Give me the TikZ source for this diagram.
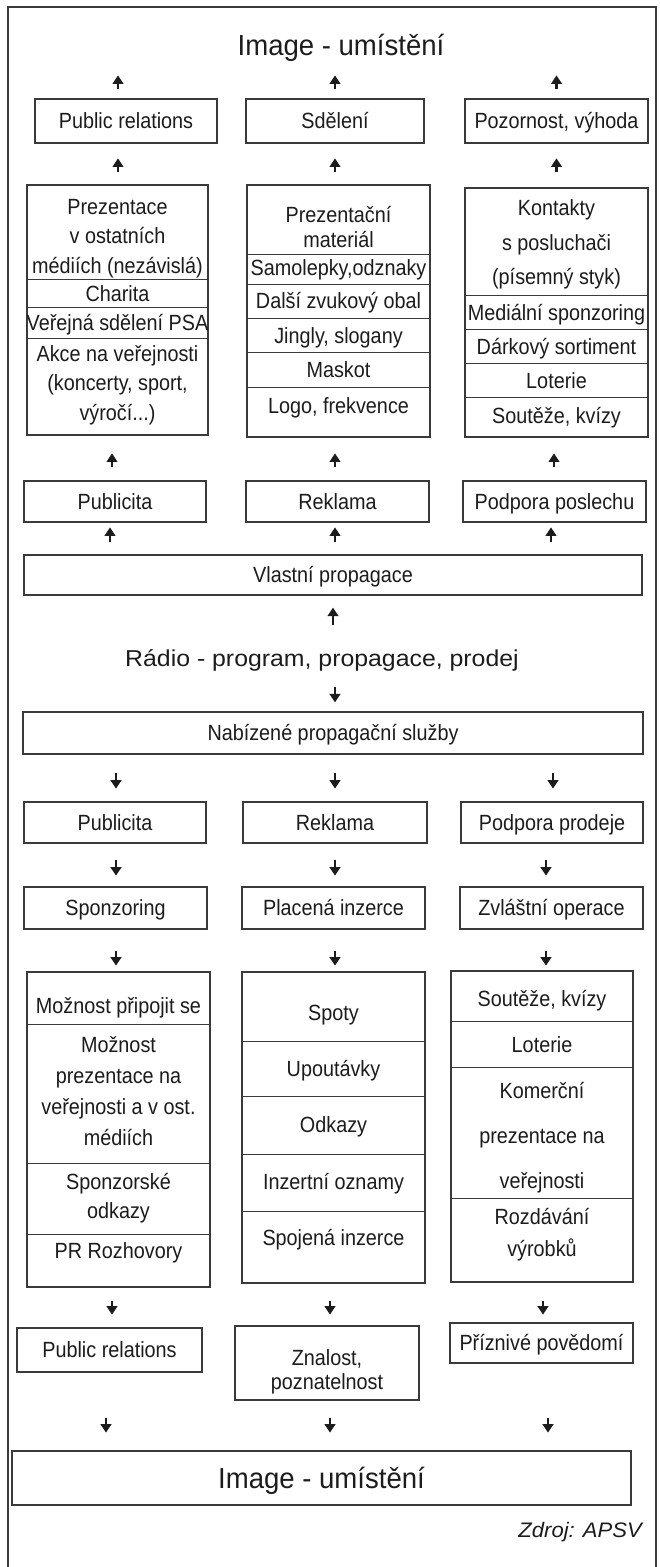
\documentclass[tikz,border=0pt]{standalone}
\usepackage{fontspec}
\setmainfont{Liberation Sans}[FakeStretch=0.9]
\newfontfamily\headfont{Liberation Sans}[FakeStretch=0.95]
\newfontfamily\widefont{Liberation Sans}[FakeStretch=1.08]
\newfontfamily\notefont{Liberation Sans}[FakeStretch=1.05]
\usetikzlibrary{arrows.meta}
\definecolor{ink}{HTML}{1C1C1C}
\definecolor{rule}{HTML}{3A3A3A}
\begin{document}
\begin{tikzpicture}[x=1pt,y=-1pt,
  box/.style={draw=rule, line width=1.3pt, inner sep=0pt, text=ink,
    font=\fontsize{22}{29}\selectfont, text height=15.75pt, text depth=0pt},
  cell/.style={text=ink, inner sep=0pt, align=center},
  one/.style={text=ink, inner sep=0pt, font=\fontsize{22}{29}\selectfont,
    text height=15.75pt, text depth=0pt},
  sepline/.style={draw=rule, line width=1.1pt},
  arr/.style={draw=ink, line width=2.2pt, -{Triangle[length=8.5pt,width=10.5pt]}},
  head/.style={font=\headfont\fontsize{29}{34}\selectfont, text height=20.8pt, text depth=0pt}
]
\fill[white] (0,0) rectangle (660,1567);
\useasboundingbox (0,0) rectangle (660,1567);
% outer frame
\draw[rule, line width=1.2pt] (8,1567) -- (8,7) -- (656,7) -- (656,1567);

% ---- upper half: own promotion ----
\node[text=ink, inner sep=0pt, head] (topimg) at (341,45) {Image - umístění};

\node[box, minimum width=182pt, minimum height=44pt] (prA) at (126,121) {Public relations};
\node[box, minimum width=178pt, minimum height=44pt] (sdA) at (335,121) {Sdělení};
\node[box, minimum width=183pt, minimum height=44pt] (pozA) at (556.5,121) {Pozornost, výhoda};

% left stack
\node[box, minimum width=181pt, minimum height=250pt] (L1) at (117.5,310) {};
\foreach \d in {95,123,154}
  \draw[sepline] ([yshift=-\d pt]L1.north west) -- ([yshift=-\d pt]L1.north east);
\node[cell, font=\fontsize{22}{29.5}\selectfont] (l1a) at (117.5,238.3) {Prezentace\\v ostatních\\médiích (nezávislá)};
\node[one] (l1b) at (117.5,294) {Charita};
\node[one] (l1c) at (117.5,323) {Veřejná sdělení PSA};
\node[cell, font=\fontsize{22}{29.5}\selectfont] (l1d) at (117.5,384.8) {Akce na veřejnosti\\(koncerty, sport,\\výročí...)};

% middle stack
\node[box, minimum width=183pt, minimum height=252pt] (M1) at (338.5,311) {};
\foreach \d in {70,100,134,168,203}
  \draw[sepline] ([yshift=-\d pt]M1.north west) -- ([yshift=-\d pt]M1.north east);
\node[cell, font=\fontsize{22}{25}\selectfont] (m1a) at (338.5,227.5) {Prezentační\\materiál};
\node[one] (m1b) at (338.5,268) {Samolepky,odznaky};
\node[one] (m1c) at (338.5,301) {Další zvukový obal};
\node[one] (m1d) at (338.5,336) {Jingly, slogany};
\node[one] (m1e) at (338.5,370) {Maskot};
\node[one] (m1f) at (338.5,406) {Logo, frekvence};

% right stack
\node[box, minimum width=183pt, minimum height=249pt] (R1) at (556.5,312.5) {};
\foreach \d in {108,142,176,210}
  \draw[sepline] ([yshift=-\d pt]R1.north west) -- ([yshift=-\d pt]R1.north east);
\node[cell, font=\fontsize{22}{34.5}\selectfont] (r1a) at (556.5,244.8) {Kontakty\\s posluchači\\(písemný styk)};
\node[one] (r1b) at (556.5,313) {Mediální sponzoring};
\node[one] (r1c) at (556.5,347) {Dárkový sortiment};
\node[one] (r1d) at (556.5,381) {Loterie};
\node[one] (r1e) at (556.5,416) {Soutěže, kvízy};

\node[box, minimum width=182pt, minimum height=41pt] (pubC) at (115,501.5) {Publicita};
\node[box, minimum width=183pt, minimum height=41pt] (rekC) at (337.5,501.5) {Reklama};
\node[box, minimum width=183pt, minimum height=41pt] (ppC) at (554.5,501.5) {Podpora poslechu};

\node[box, minimum width=618pt, minimum height=40pt] (vl) at (333,575) {Vlastní propagace};

% ---- centre line ----
\node[text=ink, inner sep=0pt, font=\widefont\fontsize{23}{28}\selectfont,
  text height=16.5pt, text depth=0pt] (radio) at (322,658) {Rádio - program, propagace, prodej};

% ---- lower half: offered services ----
\node[box, minimum width=620pt, minimum height=42pt] (nab) at (333,733) {Nabízené propagační služby};

\node[box, minimum width=182pt, minimum height=41pt] (pubF) at (115,822.5) {Publicita};
\node[box, minimum width=184pt, minimum height=41pt] (rekF) at (335,822.5) {Reklama};
\node[box, minimum width=182pt, minimum height=41pt] (pprF) at (552,822.5) {Podpora prodeje};

\node[box, minimum width=183pt, minimum height=42pt] (sponG) at (115.5,908) {Sponzoring};
\node[box, minimum width=183pt, minimum height=42pt] (placG) at (333.5,908) {Placená inzerce};
\node[box, minimum width=183pt, minimum height=42pt] (zvlG) at (551.5,908) {Zvláštní operace};

% left stack
\node[box, minimum width=183pt, minimum height=315pt] (L2) at (118.5,1129.5) {};
\foreach \d in {53,192,263}
  \draw[sepline] ([yshift=-\d pt]L2.north west) -- ([yshift=-\d pt]L2.north east);
\node[one] (l2a) at (118.5,1006) {Možnost připojit se};
\node[cell, font=\fontsize{22}{31}\selectfont] (l2b) at (118.5,1091.5) {Možnost\\prezentace na\\veřejnosti a v ost.\\médiích};
\node[cell, font=\fontsize{22}{29}\selectfont] (l2c) at (118.5,1197.8) {Sponzorské\\odkazy};
\node[one] (l2d) at (118.5,1251) {PR Rozhovory};

% middle stack
\node[box, minimum width=183pt, minimum height=311pt] (M2) at (333.5,1127.5) {};
\foreach \d in {70,125,183,240}
  \draw[sepline] ([yshift=-\d pt]M2.north west) -- ([yshift=-\d pt]M2.north east);
\node[one] (m2a) at (333.5,1013) {Spoty};
\node[one] (m2b) at (333.5,1069) {Upoutávky};
\node[one] (m2c) at (333.5,1125) {Odkazy};
\node[one] (m2d) at (333.5,1182) {Inzertní oznamy};
\node[one] (m2e) at (333.5,1238) {Spojená inzerce};

% right stack
\node[box, minimum width=182pt, minimum height=311pt] (R2) at (542,1126.5) {};
\foreach \d in {51,97,228}
  \draw[sepline] ([yshift=-\d pt]R2.north west) -- ([yshift=-\d pt]R2.north east);
\node[one] (r2a) at (542,999) {Soutěže, kvízy};
\node[one] (r2b) at (542,1045) {Loterie};
\node[cell, font=\fontsize{22}{45}\selectfont] (r2c) at (542,1137.3) {Komerční\\prezentace na\\veřejnosti};
\node[cell, font=\fontsize{22}{32}\selectfont] (r2d) at (542,1234.3) {Rozdávání\\výrobků};

\node[box, minimum width=185pt, minimum height=44pt] (prI) at (109.5,1350) {Public relations};
\node[box, minimum width=184pt, minimum height=74pt] (znI) at (327,1363) {};
\node[cell, font=\fontsize{22}{24}\selectfont] (znT) at (327,1371.8) {Znalost,\\poznatelnost};
\node[box, minimum width=183pt, minimum height=40pt] (pvI) at (541.5,1343) {Příznivé povědomí};

\node[box, head, minimum width=619pt, minimum height=54pt] (botimg) at (321.5,1478) {Image - umístění};

\node[anchor=east, text=ink, inner sep=0pt, font=\notefont\itshape\fontsize{21}{25}\selectfont,
  text height=15pt, text depth=0pt] (src) at (642,1530) {Zdroj: APSV};

% ---- arrows, upper half (pointing up) ----
\draw[arr] ([xshift=-8pt]prA.north) ++(0,-9) -- ++(0,-14);
\draw[arr] (sdA.north) ++(0,-9) -- ++(0,-14);
\draw[arr] (pozA.north) ++(0,-9) -- ++(0,-14);

\draw[arr] ([xshift=0.5pt]L1.north) ++(0,-12) -- ++(0,-14);
\draw[arr] ([xshift=-3.5pt]M1.north) ++(0,-12) -- ++(0,-14);
\draw[arr] (R1.north) ++(0,-15) -- ++(0,-14);

\draw[arr] ([xshift=-3pt]pubC.north) ++(0,-13) -- ++(0,-14);
\draw[arr] ([xshift=-2.5pt]rekC.north) ++(0,-13) -- ++(0,-14);
\draw[arr] ([xshift=-0.5pt]ppC.north) ++(0,-13) -- ++(0,-14);

\draw[arr] ([xshift=-223pt]vl.north) ++(0,-12) -- ++(0,-15);
\draw[arr] ([xshift=2pt]vl.north) ++(0,-12) -- ++(0,-15);
\draw[arr] ([xshift=218pt]vl.north) ++(0,-12) -- ++(0,-15);

\draw[arr] ([xshift=11pt]radio.north) ++(0,-25) -- ++(0,-17);

% ---- arrows, lower half (pointing down) ----
\draw[arr] ([xshift=13pt]radio.south) ++(0,21) -- ++(0,15);

\draw[arr] ([xshift=-217pt]nab.south) ++(0,18) -- ++(0,16);
\draw[arr] ([xshift=2pt]nab.south) ++(0,18) -- ++(0,16);
\draw[arr] ([xshift=220pt]nab.south) ++(0,18) -- ++(0,16);

\draw[arr] ([xshift=1pt]pubF.south) ++(0,16) -- ++(0,16);
\draw[arr] (rekF.south) ++(0,16) -- ++(0,16);
\draw[arr] ([xshift=-6pt]pprF.south) ++(0,16) -- ++(0,16);

\draw[arr] ([xshift=0.5pt]sponG.south) ++(0,21) -- ++(0,15);
\draw[arr] ([xshift=1.5pt]placG.south) ++(0,21) -- ++(0,15);
\draw[arr] ([xshift=-5.5pt]zvlG.south) ++(0,21) -- ++(0,15);

\draw[arr] ([xshift=-6.5pt]L2.south) ++(0,13) -- ++(0,14);
\draw[arr] ([xshift=-3.5pt]M2.south) ++(0,17) -- ++(0,14);
\draw[arr] ([xshift=1pt]R2.south) ++(0,18) -- ++(0,14);

\draw[arr] ([xshift=-3.5pt]prI.south) ++(0,45) -- ++(0,15);
\draw[arr] ([xshift=3pt]znI.south) ++(0,17) -- ++(0,15);
\draw[arr] ([xshift=6.5pt]pvI.south) ++(0,54) -- ++(0,15);
\end{tikzpicture}
\end{document}
